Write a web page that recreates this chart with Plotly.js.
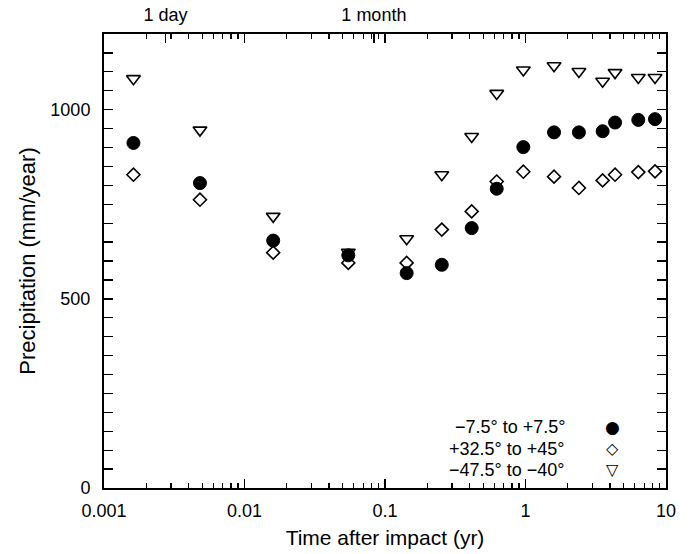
<!DOCTYPE html>
<html>
<head>
<meta charset="utf-8">
<script src="https://cdn.plot.ly/plotly-3.0.1.min.js"></script>
<style>html,body{margin:0;padding:0;background:#fff;}#chart{width:690px;height:554px;}</style>
</head>
<body>
<div id="chart"></div>
<script>
// Time after impact (yr)
const timeYr = [0.00162, 0.00482, 0.0160, 0.0548, 0.1426, 0.2536, 0.414, 0.624, 0.965, 1.596, 2.40, 3.54, 4.34, 6.35, 8.35];
// Precipitation (mm/year) by latitude band
const equatorial = [912, 806, 654, 615, 568, 590, 687, 791, 901, 940, 940, 943, 966, 973, 975];
const northMid   = [828, 762, 622, 595, 595, 683, 731, 810, 836, 823, 793, 813, 828, 835, 837];
const southMid   = [1082, 946, 718, 623, 659, 828, 929, 1043, 1105, 1116, 1101, 1075, 1098, 1085, 1085];
const seriesNames = ['\u22127.5\u00b0 to +7.5\u00b0', '+32.5\u00b0 to +45\u00b0', '\u221247.5\u00b0 to \u221240\u00b0'];
const legendSymbols = ['\u25cf', '\u25c7', '\u25bd'];
const xTickVals = [0.001, 0.01, 0.1, 1, 10];
const xTickText = ['0.001', '0.01', '0.1', '1', '10'];
const yTickVals = [0, 500, 1000];
const topTickVals = [1/365, 1/12];
const topTickText = ['1 day', '1 month'];

const FONT = 'Liberation Sans, Arial, Helvetica, sans-serif';

const traces = [
  {x: timeYr, y: equatorial, name: seriesNames[0], mode: 'markers', type: 'scatter',
   marker: {symbol: 'circle', size: 13, color: '#000', line: {color: '#000', width: 1}}},
  {x: timeYr, y: northMid, name: seriesNames[1], mode: 'markers', type: 'scatter',
   marker: {symbol: 'diamond-open', size: 10, color: '#000', line: {color: '#000', width: 1.6}}},
  {x: timeYr, y: southMid, name: seriesNames[2], mode: 'markers', type: 'scatter',
   marker: {symbol: 'triangle-down-open', size: 12, color: '#000', line: {color: '#000', width: 1.6}}}
];

const annotations = [];
const legendY = [0.134, 0.087, 0.040];
for (let i = 0; i < seriesNames.length; i++) {
  annotations.push({xref: 'paper', yref: 'paper', x: 0.824, y: legendY[i], xanchor: 'right', yanchor: 'middle',
    text: seriesNames[i], showarrow: false, font: {family: FONT, size: 18, color: '#000'}});
  annotations.push({xref: 'paper', yref: 'paper', x: 0.904, y: legendY[i], xanchor: 'center', yanchor: 'middle',
    text: legendSymbols[i], showarrow: false, font: {family: 'DejaVu Sans, sans-serif', size: i === 0 ? 17 : 16, color: '#000'}});
}

const layout = {
  width: 690, height: 554,
  margin: {l: 104, r: 24, t: 34, b: 66},
  paper_bgcolor: '#fff', plot_bgcolor: '#fff',
  showlegend: false,
  font: {family: FONT, size: 17, color: '#000'},
  xaxis: {
    type: 'log', range: [-3, 1],
    tickmode: 'array', tickvals: xTickVals, ticktext: xTickText,
    showgrid: false, zeroline: false,
    showline: true, linecolor: '#000', linewidth: 2, mirror: 'allticks',
    ticks: 'inside', ticklen: 9, tickwidth: 1.5, tickcolor: '#000',
    minor: {ticks: 'inside', ticklen: 5, tickwidth: 1.3, tickcolor: '#000', showgrid: false, dtick: 'D1'},
    tickfont: {family: FONT, size: 18},
    ticklabelstandoff: 5,
    title: {text: 'Time after impact (yr)', font: {family: FONT, size: 21}, standoff: 11}
  },
  xaxis2: {
    type: 'log', range: [-3, 1], overlaying: 'x', side: 'top', anchor: 'y',
    tickmode: 'array', tickvals: topTickVals, ticktext: topTickText,
    showgrid: false, zeroline: false, showline: false,
    ticks: 'inside', ticklen: 9, tickwidth: 1.5, tickcolor: '#000',
    tickfont: {family: FONT, size: 18},
    ticklabelstandoff: 8
  },
  yaxis: {
    range: [0, 1200], tickmode: 'array', tickvals: yTickVals,
    showgrid: false, zeroline: false,
    showline: true, linecolor: '#000', linewidth: 2, mirror: 'allticks',
    ticks: 'inside', ticklen: 9, tickwidth: 1.5, tickcolor: '#000',
    minor: {ticks: 'inside', ticklen: 5, tickwidth: 1.3, tickcolor: '#000', dtick: 50, tick0: 0, showgrid: false},
    tickfont: {family: FONT, size: 18},
    ticklabelstandoff: 8,
    title: {text: 'Precipitation (mm/year)', font: {family: FONT, size: 22}, standoff: 9}
  },
  annotations: annotations
};

// empty trace to activate the top (xaxis2) axis
traces.push({x: [0.01], y: [null], xaxis: 'x2', yaxis: 'y', mode: 'markers', showlegend: false, hoverinfo: 'skip'});

Plotly.newPlot('chart', traces, layout, {displayModeBar: false, staticPlot: true});
</script>
</body>
</html>
